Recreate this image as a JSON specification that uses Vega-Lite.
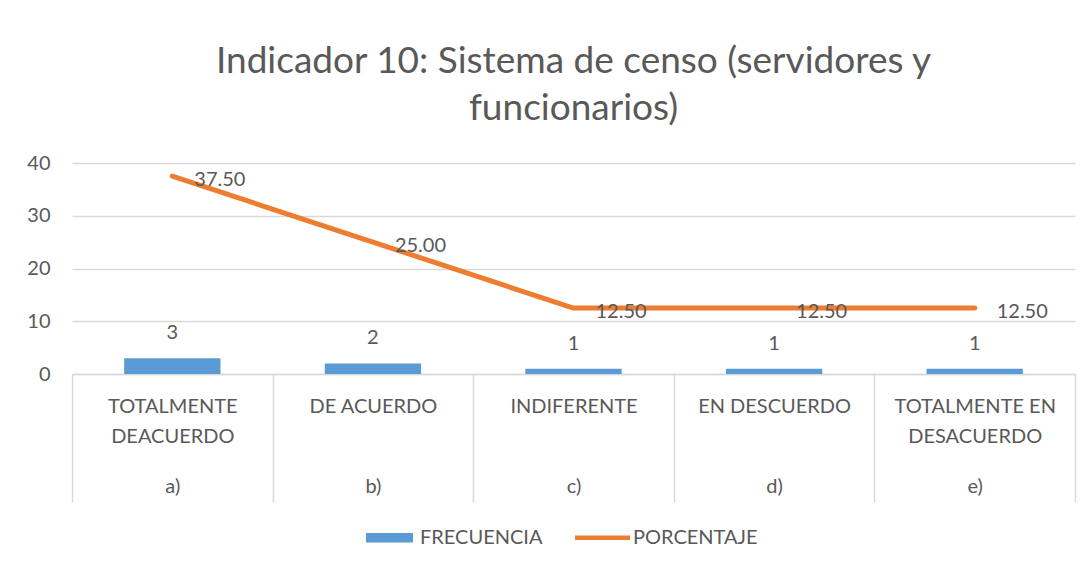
{
  "$schema": "https://vega.github.io/schema/vega-lite/v6.json",
  "width": 1003,
  "height": 211,
  "autosize": {"type": "none"},
  "padding": {"left": 72, "top": 163, "right": 16, "bottom": 188},
  "background": "white",
  "title": {
    "text": ["Indicador 10: Sistema de censo (servidores y", "funcionarios)"],
    "fontSize": 37,
    "font": "Lato",
    "fontWeight": "normal",
    "color": "#595959",
    "lineHeight": 47,
    "anchor": "middle",
    "offset": 25
  },
  "data": {
    "values": [
      {"cat": "TOTALMENTE|DEACUERDO|a)", "FRECUENCIA": 3, "PORCENTAJE": 37.5},
      {"cat": "DE ACUERDO||b)", "FRECUENCIA": 2, "PORCENTAJE": 25.0},
      {"cat": "INDIFERENTE||c)", "FRECUENCIA": 1, "PORCENTAJE": 12.5},
      {"cat": "EN DESCUERDO||d)", "FRECUENCIA": 1, "PORCENTAJE": 12.5},
      {"cat": "TOTALMENTE EN|DESACUERDO|e)", "FRECUENCIA": 1, "PORCENTAJE": 12.5}
    ]
  },
  "layer": [
    {
      "mark": {"type": "bar", "width": {"band": 0.48}, "color": "#5B9BD5"},
      "encoding": {
        "x": {
          "field": "cat",
          "type": "nominal",
          "sort": null,
          "title": null,
          "scale": {"paddingInner": 0, "paddingOuter": 0},
          "axis": {
            "orient": "bottom",
            "labelAngle": 0,
            "labelExpr": "datum.value == null ? '' : (split(datum.value,'|')[1] ? [split(datum.value,'|')[0], split(datum.value,'|')[1]] : split(datum.value,'|')[0])",
            "labelLineHeight": 30,
            "labelFont": "Lato",
            "labelFontSize": 20,
            "labelColor": "#595959",
            "labelBaseline": "top",
            "labelPadding": -106,
            "labelOverlap": false,
            "tickBand": "extent",
            "tickSize": 128,
            "tickColor": "#d9d9d9",
            "tickWidth": 1.5,
            "domainColor": "#d9d9d9",
            "domainWidth": 1.5,
            "labelLimit": 300
          }
        },
        "y": {
          "field": "FRECUENCIA",
          "type": "quantitative",
          "scale": {"domain": [0, 40], "nice": false},
          "title": null,
          "axis": {
            "values": [0, 5, 10, 15, 20, 25, 30, 35, 40],
            "domain": false,
            "ticks": false,
            "labelPadding": 22,
            "labelOverlap": false,
            "labelFont": "Lato",
            "labelFontSize": 20,
            "labelColor": "#595959",
            "gridColor": "#d9d9d9",
            "gridWidth": 1.5
          }
        },
        "color": {
          "datum": "FRECUENCIA",
          "legend": {
            "orient": "none",
            "legendX": 294,
            "legendY": 351,
            "direction": "horizontal",
            "title": null,
            "labelFont": "Lato",
            "labelFontSize": 20,
            "labelColor": "#595959",
            "symbolSize": 2209,
            "columnPadding": 32,
            "labelOffset": 7,
            "symbolStrokeWidth": 0,
            "encode": {
              "symbols": {
                "update": {
                  "shape": {"signal": "datum.value === 'PORCENTAJE' ? 'M-1.17,-0.1H1.17V0.1H-1.17Z' : 'M-1,-0.2H1V0.2H-1Z'"},
                  "strokeWidth": {"value": 0}
                }
              }
            }
          }
        }
      }
    },
    {
      "mark": {"type": "text", "dy": -25, "baseline": "middle", "font": "Lato", "fontSize": 20, "color": "#595959"},
      "encoding": {
        "x": {
          "field": "cat",
          "type": "nominal",
          "sort": null,
          "title": null,
          "axis": {
            "orient": "bottom",
            "labelAngle": 0,
            "labelExpr": "datum.value == null ? '' : split(datum.value,'|')[2]",
            "labelFont": "Lato",
            "labelFontSize": 20,
            "labelColor": "#595959",
            "labelBaseline": "top",
            "labelPadding": -26,
            "labelOverlap": false,
            "tickBand": "extent",
            "tickSize": 128,
            "tickOpacity": 0,
            "domain": false,
            "grid": false
          }
        },
        "y": {"field": "FRECUENCIA", "type": "quantitative"},
        "text": {"field": "FRECUENCIA", "type": "quantitative"}
      }
    },
    {
      "mark": {"type": "line", "strokeWidth": 5, "strokeCap": "round", "strokeJoin": "round", "color": "#ED7D31"},
      "encoding": {
        "x": {"field": "cat", "type": "nominal", "sort": null, "axis": null},
        "y": {"field": "PORCENTAJE", "type": "quantitative"},
        "color": {"datum": "PORCENTAJE"}
      }
    },
    {
      "mark": {"type": "text", "dx": 22, "dy": 4, "align": "left", "baseline": "middle", "font": "Lato", "fontSize": 20, "color": "#595959"},
      "encoding": {
        "x": {"field": "cat", "type": "nominal", "sort": null, "axis": null},
        "y": {"field": "PORCENTAJE", "type": "quantitative"},
        "text": {"field": "PORCENTAJE", "type": "quantitative", "format": ".2f"}
      }
    }
  ],
  "resolve": {"scale": {"y": "shared", "x": "shared"}, "axis": {"x": "independent", "y": "shared"}},
  "config": {
    "view": {"stroke": null},
    "range": {"category": ["#5B9BD5", "#ED7D31"]}
  }
}
